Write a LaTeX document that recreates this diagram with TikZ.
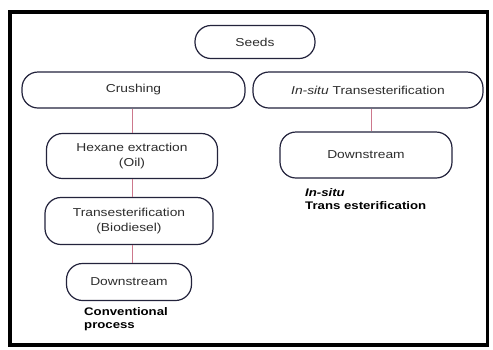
\documentclass[tikz,border=0pt]{standalone}
\usepackage{fontspec}
\setmainfont{Liberation Sans}[FakeStretch=1.2]
\definecolor{boxline}{RGB}{35,35,60}
\definecolor{linkc}{RGB}{205,120,140}
\definecolor{txt}{RGB}{45,45,45}
\begin{document}
\begin{tikzpicture}[x=1pt,y=-1pt,
  box/.style={draw=boxline,line width=1.2pt,rounded corners=16pt,inner sep=0pt,
    align=center,text=txt,font=\fontsize{11.5}{15}\selectfont},
  link/.style={draw=linkc,line width=0.8pt},
  note/.style={anchor=north west,align=left,inner sep=0pt,text=black,
    font=\fontsize{11}{13}\selectfont\bfseries}]
\useasboundingbox (0,0) rectangle (493,349);
\fill[white] (0,0) rectangle (493,349);
\draw[line width=3.5pt,black] (10,12) rectangle (487.5,345);
\node[box,minimum width=120pt,minimum height=33pt] (seeds) at (255,42) {Seeds};
\node[box,minimum width=223pt,minimum height=36pt] (crush) at (133.5,90) {Crushing};
\node[box,minimum width=230pt,minimum height=36pt] (insitu) at (368,90) {\textit{In-situ} Transesterification};
\node[box,minimum width=171pt,minimum height=45pt] (hexane) at (132,156) {Hexane extraction\\(Oil)};
\node[box,minimum width=168pt,minimum height=47pt] (trans) at (129,221) {Transesterification\\(Biodiesel)};
\node[box,minimum width=125pt,minimum height=37pt] (down1) at (129,282) {Downstream};
\node[box,minimum width=172pt,minimum height=46pt] (down2) at (366,155) {Downstream};
\coordinate (lx) at (132,0);
\coordinate (rx) at (371,0);
\draw[link] (crush.south -| lx) -- (hexane.north -| lx);
\draw[link] (hexane.south -| lx) -- (trans.north -| lx);
\draw[link] (trans.south -| lx) -- (down1.north -| lx);
\draw[link] (insitu.south -| rx) -- (down2.north -| rx);
\node[note] (conv) at (84,307) {Conventional\\process};
\node[note] (insitunote) at (305,188) {\textit{In-situ}\\Trans esterification};
\end{tikzpicture}
\end{document}
